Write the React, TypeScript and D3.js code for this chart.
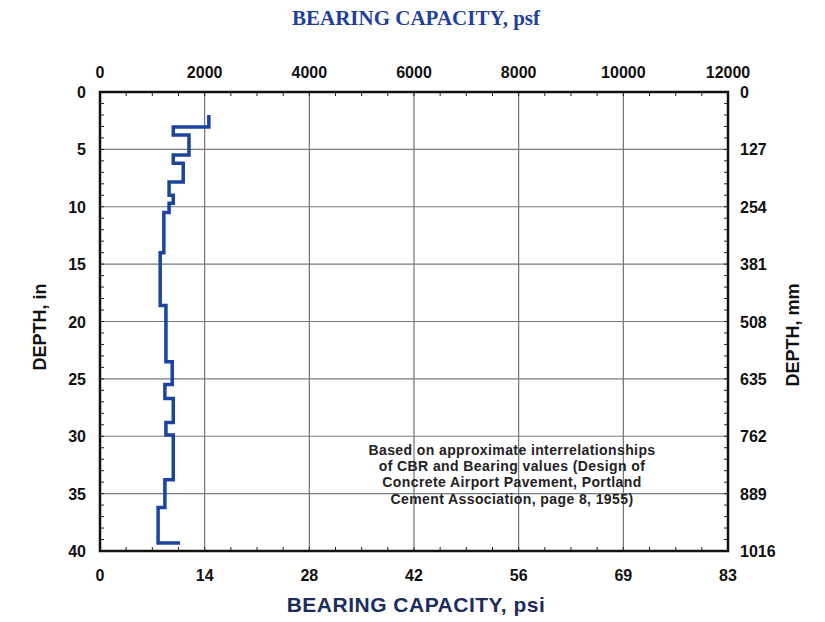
import React from "react";
import * as d3 from "d3";

// Step profile: boundaries of depth (in) and bearing capacity (psf) per layer
const stepDepths = [2.0, 3.05, 3.75, 5.5, 6.2, 7.85, 9.0, 9.7, 10.5, 14.0, 18.6, 23.5, 25.5, 26.7, 28.8, 29.9, 33.8, 36.2, 39.3];
const stepPsf = [2080, 1400, 1700, 1400, 1590, 1320, 1400, 1320, 1220, 1150, 1260, 1380, 1240, 1400, 1260, 1400, 1240, 1110];
const finalPsf = 1530;

const topTicks = [0, 2000, 4000, 6000, 8000, 10000, 12000];
const bottomTickLabels = ["0", "14", "28", "42", "56", "69", "83"];
const leftTicks = [0, 5, 10, 15, 20, 25, 30, 35, 40];
const rightTickLabels = ["0", "127", "254", "381", "508", "635", "762", "889", "1016"];
const noteLines = [
  "Based on approximate interrelationships",
  "of CBR and Bearing values (Design of",
  "Concrete Airport Pavement, Portland",
  "Cement Association, page 8, 1955)",
];

export default function App() {
  const W = 825, H = 622;
  const x = d3.scaleLinear().domain([0, 12000]).range([100, 728]);
  const y = d3.scaleLinear().domain([0, 40]).range([92, 551]);

  const pts: [number, number][] = [];
  stepPsf.forEach((v, i) => {
    pts.push([x(v), y(stepDepths[i])]);
    pts.push([x(v), y(stepDepths[i + 1])]);
  });
  pts.push([x(finalPsf), y(stepDepths[stepDepths.length - 1])]);
  const line = d3.line()(pts) || "";

  const minorX = d3.range(0, 12001, 500);
  const minorY = d3.range(0, 41, 1);
  const sans = "'Liberation Sans', Arial, sans-serif";
  const tickStyle = { fontFamily: sans, fontWeight: 700, fontSize: 16, fill: "#111" } as const;

  return (
    <svg width={W} height={H} style={{ position: "absolute", left: 0, top: 0, background: "#fff" }}>
      {/* grid */}
      {topTicks.slice(1, -1).map((t) => (
        <line key={"gx" + t} x1={x(t)} x2={x(t)} y1={y(0)} y2={y(40)} stroke="#666" strokeWidth={1.1} />
      ))}
      {leftTicks.slice(1, -1).map((t) => (
        <line key={"gy" + t} x1={x(0)} x2={x(12000)} y1={y(t)} y2={y(t)} stroke="#707c84" strokeWidth={1.1} />
      ))}
      {/* minor ticks */}
      {minorX.map((t) => (
        <g key={"mx" + t}>
          <line x1={x(t)} x2={x(t)} y1={y(0)} y2={y(0) + 4} stroke="#222" strokeWidth={1} />
          <line x1={x(t)} x2={x(t)} y1={y(40)} y2={y(40) - 4} stroke="#222" strokeWidth={1} />
        </g>
      ))}
      {minorY.map((t) => (
        <g key={"my" + t}>
          <line x1={x(0)} x2={x(0) + 4} y1={y(t)} y2={y(t)} stroke="#222" strokeWidth={1} />
          <line x1={x(12000)} x2={x(12000) - 4} y1={y(t)} y2={y(t)} stroke="#222" strokeWidth={1} />
        </g>
      ))}
      {/* frame */}
      <rect x={x(0)} y={y(0)} width={x(12000) - x(0)} height={y(40) - y(0)} fill="none" stroke="#111" strokeWidth={2.5} />
      {/* step line */}
      <path d={line} fill="none" stroke="#1a44a0" strokeWidth={3.5} strokeLinejoin="miter" />

      {/* top axis labels */}
      {topTicks.map((t) => (
        <text key={"tt" + t} x={x(t)} y={78} textAnchor="middle" {...tickStyle}>{t}</text>
      ))}
      {/* bottom axis labels */}
      {topTicks.map((t, i) => (
        <text key={"bt" + t} x={x(t)} y={581} textAnchor="middle" {...tickStyle}>{bottomTickLabels[i]}</text>
      ))}
      {/* left labels */}
      {leftTicks.map((t) => (
        <text key={"lt" + t} x={86} y={y(t) + 6} textAnchor="end" {...tickStyle}>{t}</text>
      ))}
      {/* right labels */}
      {leftTicks.map((t, i) => (
        <text key={"rt" + t} x={740} y={y(t) + 6} textAnchor="start" {...tickStyle}>{rightTickLabels[i]}</text>
      ))}

      {/* titles */}
      <text x={416} y={25} textAnchor="middle" fontFamily="'Liberation Serif', 'Times New Roman', serif" fontWeight={700} fontSize={21} fill="#1f3f9f">
        BEARING CAPACITY, psf
      </text>
      <text x={416} y={612} textAnchor="middle" fontFamily={sans} fontWeight={700} fontSize={21} letterSpacing={0.5} fill="#1b2d5e">
        BEARING CAPACITY, psi
      </text>
      <text transform="translate(46,327) rotate(-90)" textAnchor="middle" fontFamily={sans} fontWeight={700} fontSize={18} fill="#111">
        DEPTH, in
      </text>
      <text transform="translate(799,335) rotate(-90)" textAnchor="middle" fontFamily={sans} fontWeight={700} fontSize={18} fill="#111">
        DEPTH, mm
      </text>

      {/* note */}
      {noteLines.map((s, i) => (
        <text key={"n" + i} x={512} y={455 + i * 16.2} textAnchor="middle" fontFamily={sans} fontWeight={700} fontSize={14} letterSpacing={0.4} fill="#222">
          {s}
        </text>
      ))}
    </svg>
  );
}
